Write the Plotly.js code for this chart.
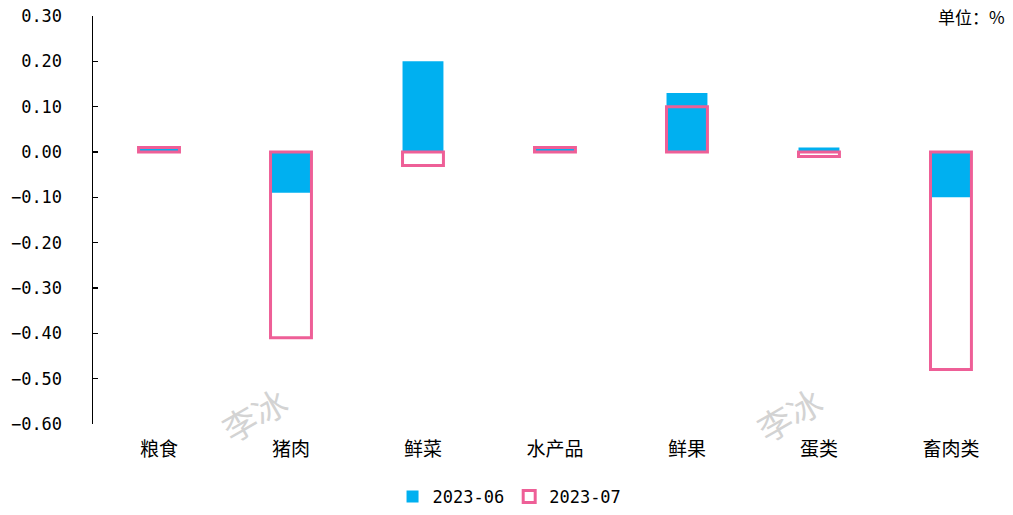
<!DOCTYPE html>
<html><head><meta charset="utf-8">
<script src="https://cdn.plot.ly/plotly-3.0.1.min.js"></script>
<style>html,body{margin:0;padding:0;background:#fff}</style>
</head><body><div id="chart" style="width:1013px;height:515px"></div>
<script>
const categories = ["粮食","猪肉","鲜菜","水产品","鲜果","蛋类","畜肉类"];
const series06 = [0.01,-0.09,0.20,0.01,0.13,0.01,-0.10];
const series07 = [0.01,-0.41,-0.03,0.01,0.10,-0.01,-0.48];
const yTickVals = [0.3,0.2,0.1,0,-0.1,-0.2,-0.3,-0.4,-0.5,-0.6];
const yTickText = ["0.30","0.20","0.10","0.00","−0.10","−0.20","−0.30","−0.40","−0.50","−0.60"];
const names = ["2023-06","2023-07"];

const idx = categories.map((c,i)=>i);
const traces = [
 {type:'bar', x:idx, y:series06, name:names[0], width:0.31,
  marker:{color:'#00B0F0', line:{width:0}}},
 {type:'bar', x:idx, y:series07, name:names[1], width:0.31,
  marker:{color:'rgba(255,255,255,0)', line:{color:'#EE5F97', width:3}}}
];
const zeroFrac = (0 - (-0.6))/(0.3-(-0.6));
const mono = '"DejaVu Sans Mono", monospace';
const layout = {
 width:1013, height:515,
 margin:{l:93, r:0, t:16, b:91},
 paper_bgcolor:'#fff', plot_bgcolor:'#fff',
 barmode:'overlay',
 showlegend:true,
 font:{family:'"Noto Sans CJK SC", sans-serif', color:'#000'},
 xaxis:{range:[-0.5, 6.47], tickmode:'array', tickvals:idx, ticktext:categories,
   showgrid:false, zeroline:false, showline:false, ticks:'',
   tickfont:{size:19, family:'"Noto Sans CJK SC", serif'}, ticklabelstandoff:12},
 xaxis2:{overlaying:'x', anchor:'free', position:zeroFrac, range:[-0.5,6.47],
   tickmode:'array', tickvals:[0.5,1.5,2.5,3.5,4.5,5.5], ticks:'inside', ticklen:5,
   tickcolor:'#000', tickwidth:1.5, showticklabels:false, showline:true, linecolor:'#000',
   linewidth:2, showgrid:false, zeroline:false},
 yaxis:{range:[-0.6,0.3], tickmode:'array', tickvals:yTickVals, ticktext:yTickText,
   showgrid:false, zeroline:false, showline:true, linecolor:'#000', linewidth:1.5,
   ticks:'inside', ticklen:5, tickcolor:'#000', tickwidth:1.5,
   tickfont:{size:17, family:mono}, ticklabelstandoff:26},
 legend:{orientation:'h', xref:'container', yref:'container', x:0.503, y:0.0,
   xanchor:'center', yanchor:'bottom', font:{size:17, family:mono},
   itemwidth:30, tracegroupgap:0},
 annotations:[
  {xref:'paper', yref:'paper', x:1, xanchor:'right', y:1, yanchor:'top', xshift:-6, yshift:14,
   text:'单位：%', showarrow:false, font:{size:17}},
  {xref:'x', yref:'y', x:0.72, y:-0.6, yanchor:'middle', yshift:10, text:'李冰', showarrow:false,
   textangle:-30, font:{size:34, color:'#d3d3d3'}},
  {xref:'x', yref:'y', x:4.77, y:-0.6, yanchor:'middle', yshift:10, text:'李冰', showarrow:false,
   textangle:-30, font:{size:34, color:'#d3d3d3'}}
 ]
};
Plotly.newPlot('chart', traces, layout, {displayModeBar:false, staticPlot:true});
</script></body></html>
